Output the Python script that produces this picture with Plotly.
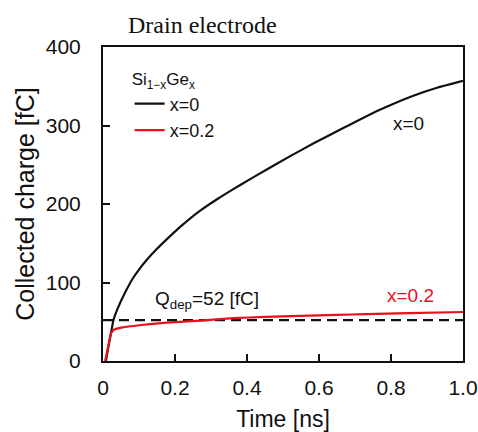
import plotly.graph_objects as go

# Data
t_x0 = [0.008, 0.015, 0.02, 0.029, 0.04, 0.06, 0.084, 0.1, 0.12, 0.15, 0.177, 0.22, 0.27, 0.32, 0.362,
        0.41, 0.455, 0.52, 0.584, 0.63, 0.677, 0.769, 0.862, 0.93, 1.0]
q_x0 = [0, 18, 30, 52, 66, 86, 106, 116.5, 128, 143, 155, 173, 191.5, 207, 219,
        232, 244, 261, 277, 288, 299, 320, 338, 348.5, 357]

t_x02 = [0.006, 0.015, 0.022, 0.029, 0.05, 0.084, 0.13, 0.177, 0.27, 0.362, 0.45, 0.547, 0.65, 0.73, 0.85, 1.0]
q_x02 = [0, 20, 35, 39.5, 42.5, 44.6, 47, 48.8, 51.4, 54.5, 56.3, 57.5, 58.7, 59.8, 61, 62.4]

q_dep = 52
dep_t = [0, 1.0]

x_ticks = [0, 0.2, 0.4, 0.6, 0.8, 1.0]
x_ticktext = ["0", "0.2", "0.4", "0.6", "0.8", "1.0"]
y_ticks = [0, 100, 200, 300, 400]

BLACK = "#111111"
RED = "#e8101c"
SANS = "Liberation Sans, Arial, sans-serif"

fig = go.Figure()
fig.add_trace(go.Scatter(x=dep_t, y=[q_dep] * len(dep_t), mode="lines",
                         line=dict(color=BLACK, width=2.2, dash="10px,6px"),
                         showlegend=False, hoverinfo="skip"))
fig.add_trace(go.Scatter(x=t_x0, y=q_x0, mode="lines", name="x=0",
                         line=dict(color=BLACK, width=2.2, shape="spline", smoothing=0.5)))
fig.add_trace(go.Scatter(x=t_x02, y=q_x02, mode="lines", name="x=0.2",
                         line=dict(color=RED, width=2.2, shape="spline", smoothing=0.3)))

fig.update_layout(
    width=478, height=432,
    margin=dict(l=103, r=15, t=47, b=71),
    paper_bgcolor="white", plot_bgcolor="white",
    font=dict(family=SANS, color=BLACK),
    showlegend=True,
    legend=dict(
        x=0.074, y=0.948, xanchor="left", yanchor="top",
        bgcolor="rgba(0,0,0,0)",
        font=dict(size=18, family=SANS),
        title=dict(text="Si<sub>1−x</sub>Ge<sub>x</sub>", font=dict(size=17, family=SANS)),
        itemwidth=30, tracegroupgap=4,
    ),
)

fig.update_xaxes(
    range=[0, 1.0], tickvals=x_ticks, ticktext=x_ticktext,
    showline=True, linecolor=BLACK, linewidth=2, mirror=True,
    ticks="inside", ticklen=7, tickwidth=2, tickcolor=BLACK,
    showgrid=False, zeroline=False, automargin=False,
    tickfont=dict(size=21, family=SANS),
    ticklabelstandoff=7,
    title=dict(text="Time [ns]", font=dict(size=23, family=SANS), standoff=14),
)
fig.update_yaxes(
    range=[0, 400], tickvals=y_ticks,
    showline=True, linecolor=BLACK, linewidth=2, mirror=True,
    ticks="inside", ticklen=7, tickwidth=2, tickcolor=BLACK,
    showgrid=False, zeroline=False, automargin=False,
    tickfont=dict(size=21, family=SANS),
    ticklabelstandoff=16,
    title=dict(text="Collected charge [fC]", font=dict(size=25, family=SANS), standoff=4),
)

fig.add_annotation(text="Drain electrode", xref="paper", yref="paper",
                   x=0.275, y=1.07, xanchor="center", yanchor="middle",
                   showarrow=False, font=dict(family="Liberation Serif, Times New Roman, serif", size=24, color=BLACK))
fig.add_annotation(text="x=0", x=0.848, y=303, showarrow=False,
                   font=dict(size=19, color=BLACK))
fig.add_annotation(text="x=0.2", x=0.853, y=83, showarrow=False,
                   font=dict(size=19, color=RED))
fig.add_annotation(text="Q<sub>dep</sub>=52 [fC]", x=0.14, y=78, xanchor="left", showarrow=False,
                   font=dict(size=19, color=BLACK))

fig.write_html("out.html")
